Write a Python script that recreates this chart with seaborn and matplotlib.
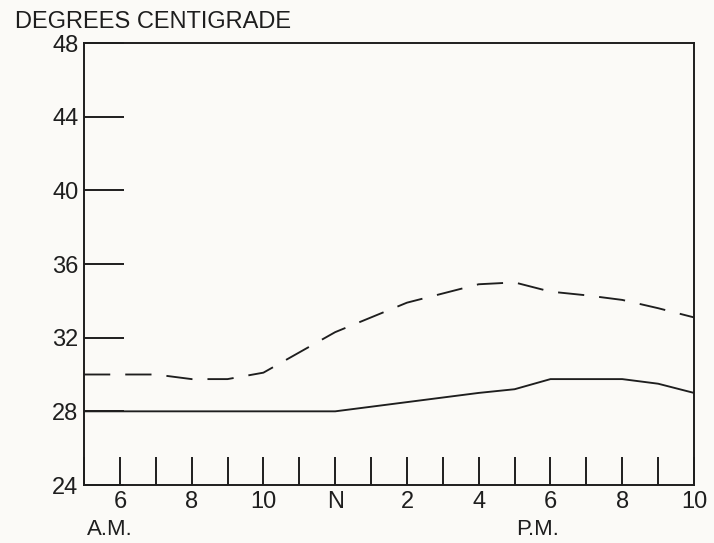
import pandas as pd
import matplotlib.pyplot as plt
import seaborn as sns

# Hourly readings, 5 A.M. to 10 P.M.
hours = [5, 6, 7, 8, 9, 10, 11, 12, 13, 14, 15, 16, 17, 18, 19, 20, 21, 22]
upper_temp = [30.0, 30.0, 30.0, 29.75, 29.75, 30.1, 31.2, 32.3, 33.1, 33.9, 34.4, 34.9, 35.0, 34.5, 34.3, 34.05, 33.6, 33.1]
lower_temp = [28.0, 28.0, 28.0, 28.0, 28.0, 28.0, 28.0, 28.0, 28.25, 28.5, 28.75, 29.0, 29.2, 29.75, 29.75, 29.75, 29.5, 29.0]

tick_labels = ["", "6", "", "8", "", "10", "", "N", "", "2", "", "4", "", "6", "", "8", "", "10"]
y_ticks = [24, 28, 32, 36, 40, 44, 48]

data = pd.DataFrame({
    "hour": hours * 2,
    "temp": upper_temp + lower_temp,
    "series": ["upper"] * len(hours) + ["lower"] * len(hours),
})

sns.set_style("white")
plt.rcParams["font.family"] = ["Liberation Sans", "DejaVu Sans"]

ink = "#1e1e1e"
paper = "#fbfaf7"

fig = plt.figure(figsize=(7.14, 5.43), dpi=100, facecolor=paper)
ax = fig.add_axes([84 / 714, 1 - 485 / 543, 610 / 714, 442 / 543])
ax.set_facecolor(paper)

sns.lineplot(
    data=data, x="hour", y="temp", style="series",
    dashes={"upper": (14, 8), "lower": ""},
    color=ink, linewidth=1.35, legend=False, ax=ax
)

ax.set_xlim(5, 22)
ax.set_ylim(24, 48)
ax.set_xticks(hours)
ax.set_xticklabels(tick_labels)
ax.set_yticks(y_ticks)
ax.set_yticklabels([str(v) for v in y_ticks])
ax.tick_params(axis="x", bottom=True, direction="in", length=20, width=1.4, color=ink,
               labelsize=17, labelcolor=ink, pad=4)
ax.tick_params(axis="y", left=True, direction="in", length=29, width=1.4, color=ink,
               labelsize=17, labelcolor=ink, pad=4)
ax.set_xlabel("")
ax.set_ylabel("")
for s in ax.spines.values():
    s.set_visible(True)
    s.set_color(ink)
    s.set_linewidth(1.4)

fig.text(15 / 714, 1 - 22 / 543, "DEGREES CENTIGRADE", fontsize=17, color=ink,
         ha="left", va="center")
ax.text(5.72, 21.6, "A.M.", fontsize=16, color=ink, ha="center", va="center")
ax.text(17.65, 21.6, "P.M.", fontsize=16, color=ink, ha="center", va="center")

plt.savefig("out.png", dpi=100, facecolor=paper)
